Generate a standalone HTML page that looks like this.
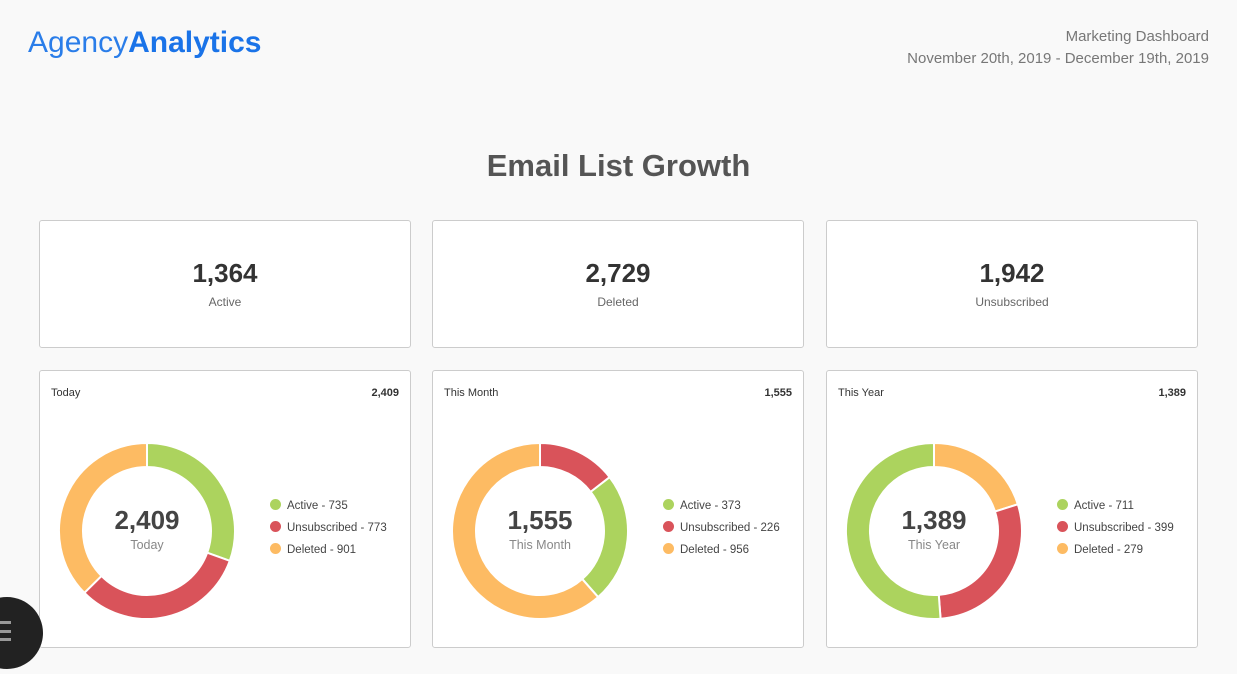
<!DOCTYPE html>
<html><head><meta charset="utf-8"><style>
body{margin:0;width:1237px;height:674px;background:#f9f9f9;font-family:"Liberation Sans",sans-serif;position:relative;overflow:hidden}
.logo{position:absolute;left:28px;top:26px;font-size:30px;color:#1a73e8;letter-spacing:0}
.logo .l{font-weight:300;color:#2a7de9}
.logo b{font-weight:bold}
.hr{position:absolute;right:28px;top:26px;text-align:right;color:#777;font-size:15px;line-height:22px}
h1{position:absolute;left:0;width:1237px;top:148px;margin:0;text-align:center;font-size:31px;color:#555;font-weight:bold}
.card{position:absolute;background:#fff;border:1px solid #ccc;border-radius:3px;box-sizing:border-box;width:372px}
.top{top:220px;height:128px;text-align:center}
.top .n{margin-top:37px;font-size:26px;font-weight:bold;color:#333}
.top .s{margin-top:6px;font-size:12px;color:#666}
.bot{top:370px;height:278px}
.t{position:absolute;left:11px;top:16px;font-size:11px;color:#333}
.tr{position:absolute;right:11px;top:16px;font-size:11px;color:#333;font-weight:bold}
.ctr{position:absolute;left:37px;width:140px;text-align:center;top:134px}
.ctr .n{font-size:26px;font-weight:bold;color:#444}
.ctr .s{font-size:12.5px;color:#888;margin-top:2px}
.leg{position:absolute;left:230px;top:124px;font-size:11.5px;color:#444;line-height:22px}
.leg i{display:inline-block;width:11px;height:11px;border-radius:50%;margin-right:6px;vertical-align:-1px}
svg.d{position:absolute;left:18px;top:71px}
.menu{position:absolute;left:-29px;top:597px;width:72px;height:72px;border-radius:50%;background:#222}
.menu span{position:absolute;left:20px;width:20px;height:3px;background:#999}
</style></head><body>
<div class="logo"><span class="l">Agency</span><b>Analytics</b></div>
<div class="hr">Marketing Dashboard<br>November 20th, 2019 - December 19th, 2019</div>
<h1>Email List Growth</h1>
<div class="card top" style="left:39px"><div class="n">1,364</div><div class="s">Active</div></div>
<div class="card top" style="left:432px"><div class="n">2,729</div><div class="s">Deleted</div></div>
<div class="card top" style="left:826px"><div class="n">1,942</div><div class="s">Unsubscribed</div></div>
<div class="card bot" style="left:39px" id="c0"><div class="t">Today</div><div class="tr">2,409</div>
<div class="ctr"><div class="n">2,409</div><div class="s">Today</div></div>
<div class="leg"><div><i style="background:#acd35e"></i>Active - 735</div><div><i style="background:#d9535a"></i>Unsubscribed - 773</div><div><i style="background:#fdbb63"></i>Deleted - 901</div></div></div>
<div class="card bot" style="left:432px" id="c1"><div class="t">This Month</div><div class="tr">1,555</div>
<div class="ctr"><div class="n">1,555</div><div class="s">This Month</div></div>
<div class="leg"><div><i style="background:#acd35e"></i>Active - 373</div><div><i style="background:#d9535a"></i>Unsubscribed - 226</div><div><i style="background:#fdbb63"></i>Deleted - 956</div></div></div>
<div class="card bot" style="left:826px" id="c2"><div class="t">This Year</div><div class="tr">1,389</div>
<div class="ctr"><div class="n">1,389</div><div class="s">This Year</div></div>
<div class="leg"><div><i style="background:#acd35e"></i>Active - 711</div><div><i style="background:#d9535a"></i>Unsubscribed - 399</div><div><i style="background:#fdbb63"></i>Deleted - 279</div></div></div>
<div class="menu"><span style="top:24px"></span><span style="top:33px"></span><span style="top:41px"></span></div>
<script>
var G="#acd35e",R="#d9535a",O="#fdbb63";
var data=[[[735,G],[773,R],[901,O]],[[226,R],[373,G],[956,O]],[[279,O],[399,R],[711,G]]];
data.forEach(function(segs,k){
 var tot=segs.reduce(function(a,s){return a+s[0]},0),a0=0,cx=89,cy=89,ro=88,ri=64,p="";
 segs.forEach(function(s){
  var a1=a0+s[0]/tot*2*Math.PI,lg=(a1-a0)>Math.PI?1:0;
  function pt(r,a){return (cx+r*Math.sin(a)).toFixed(2)+" "+(cy-r*Math.cos(a)).toFixed(2)}
  p+='<path d="M'+pt(ro,a0)+' A'+ro+' '+ro+' 0 '+lg+' 1 '+pt(ro,a1)+' L'+pt(ri,a1)+' A'+ri+' '+ri+' 0 '+lg+' 0 '+pt(ri,a0)+' Z" fill="'+s[1]+'" stroke="#fff" stroke-width="2"/>';
  a0=a1;
 });
 var c=document.getElementById("c"+k);
 c.insertAdjacentHTML("afterbegin",'<svg class="d" width="178" height="178">'+p+'</svg>');
});
</script>
</body></html>
